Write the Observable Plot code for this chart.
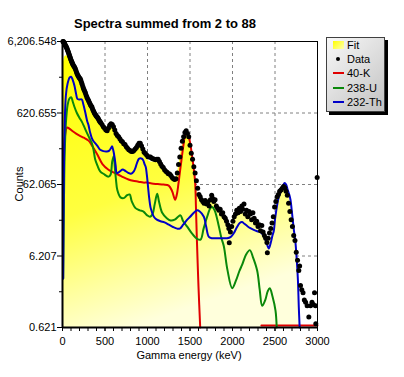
<!DOCTYPE html>
<html><head><meta charset="utf-8">
<script src="https://cdn.jsdelivr.net/npm/d3@7"></script>
<script src="https://cdn.jsdelivr.net/npm/@observablehq/plot@0.6"></script>
<style>
body{margin:0;background:#fff;font-family:"Liberation Sans",Arial,sans-serif;color:#000}
#wrap{position:relative;width:404px;height:377px;overflow:hidden}
#wrap svg{position:absolute;left:0;top:0}
.abs{position:absolute;white-space:nowrap}
#title{left:0;width:330px;top:17px;text-align:center;font-weight:bold;font-size:13px;line-height:13px}
#ylab{left:19px;top:184px;font-size:11px;transform:translate(-50%,-50%) rotate(-90deg)}
#xlab{left:189px;top:355px;font-size:11px;transform:translate(-50%,-50%)}
#legend{left:326px;top:37px;width:57px;height:73px;border:1px solid #404040;background:linear-gradient(135deg,#f8f8f8,#c2c2c2);box-shadow:3px 3px 0 #000}
.row{position:absolute;left:0;width:57px;height:14px}
.row .t{position:absolute;left:20px;top:0;font-size:11px;line-height:14px}
.sw{position:absolute}
</style></head>
<body>
<div id="wrap">
  <div id="plot"></div>
  <div class="abs" id="title">Spectra summed from 2 to 88</div>
  <div class="abs" id="ylab">Counts</div>
  <div class="abs" id="xlab">Gamma energy (keV)</div>
  <div class="abs" id="legend"></div>
</div>
<script>
// ---- tick values ----
const xTicks = [0, 500, 1000, 1500, 2000, 2500, 3000];
const xMinorTicks = d3.range(0, 3001, 100);
const yTicks = [0.621, 6.207, 62.065, 620.655, 6206.548];
const yMinorTicks = [1.963, 19.63, 196.3, 1963];
const yDomain = [0.621, 6206.548];

// ---- series: [energy keV, counts] ----
const dataPts = [
[5,6300],[10,6200],[15,6050],[20,5900],[25,5750],[30,5600],[35,5450],[40,5330],[45,5200],[50,5030],
[55,4870],[60,4700],[65,4530],[70,4370],[75,4200],[80,4030],[85,3870],[90,3700],[95,3570],[100,3430],
[105,3300],[110,3200],[115,3100],[120,3000],[127,2900],[135,2800],[142,2700],[150,2600],[157,2450],[165,2300],
[172,2200],[180,2100],[187,2020],[195,1950],[202,1900],[210,1850],[217,1750],[225,1650],[232,1550],[240,1450],
[247,1370],[255,1300],[262,1240],[270,1180],[277,1110],[285,1050],[292,1000],[300,960],[307,920],[315,880],
[322,840],[330,800],[337,780],[345,760],[352,720],[360,680],[367,650],[375,620],[382,600],[390,580],
[397,565],[405,550],[412,535],[420,520],[427,500],[435,480],[442,468],[450,455],
[465,430],[480,400],[495,380],[510,360],[525,350],[540,380],[555,420],[570,440],[585,430],
[600,400],[615,360],[630,320],[645,300],[660,290],[675,270],[690,255],[705,245],[720,230],[735,225],
[750,210],[765,200],[780,190],[795,185],[810,180],[825,180],[840,185],[855,195],[870,205],[885,220],
[900,235],[915,235],[930,215],[945,195],[960,175],[975,168],[990,160],[1005,152],[1020,150],[1035,150],
[1050,145],[1065,142],[1080,140],[1095,138],[1110,140],[1125,140],[1140,130],[1155,120],[1170,112],[1185,107],
[1200,100],[1215,95],[1230,92],[1245,88],[1260,87],[1275,83],[1290,78],[1305,75],[1320,73],[1335,75],
[1350,90],[1365,118],[1380,150],[1395,200],[1410,250],[1425,290],[1440,330],[1455,350],[1470,320],[1485,290],
[1500,220],[1515,170],[1530,140],[1545,110],[1560,90],[1575,70],[1590,55],[1605,45],
[1620,42],[1635,38],[1650,36],[1665,34],[1680,37],[1695,33],[1710,35],[1725,31],[1740,38],[1755,44],
[1765,40],[1780,36],[1795,38],[1810,31],[1825,29],[1840,27],[1855,28],[1870,24],[1885,25],[1900,22],
[1915,21],[1930,19],[1945,17],[1957,15],[1962,9.5],[1975,13.5],[1990,16],[2005,19],[2020,22],[2035,24],
[2050,27],[2065,25],[2080,29],[2095,26],[2110,31],[2120,28],[2135,33],[2150,24],[2165,27],[2180,22],
[2195,26],[2210,24],[2225,20],[2240,25],[2255,21],[2270,18],[2285,19],[2300,16],[2315,17],[2330,14],
[2345,16.6],[2360,13.5],[2375,12],[2390,11],[2405,9.6],[2410,6.9],[2420,11],[2435,13],[2450,15],[2465,18],
[2480,22],[2495,30],[2510,36],[2525,42],[2540,45],[2555,50],[2570,52],[2585,55],[2600,58],[2615,56],
[2630,50],[2645,44],[2660,34],[2675,26],[2690,20],[2705,16],[2720,12],[2735,10.2],[2750,7],[2765,5.4],
[2780,3.9],[2790,4.5],[2800,2.4],[2815,2.1],[2830,1.9],[2845,1.5],[2860,1.4],[2878,1.25],[2898,0.87],[2918,1.25],
[2935,1.4],[2950,1.3],[2965,1.9],[2976,1.25],[2980,0.7],[2996,78]
];

const fitCurve = [
[0,2500],[15,3300],[35,3900],[60,3900],[90,3500],[120,3000],[150,2450],[180,2000],[210,1700],[250,1300],
[300,950],[350,720],[400,540],[450,430],[500,360],[530,345],[560,390],[585,415],[610,365],[640,300],
[680,255],[720,225],[760,200],[800,178],[840,175],[880,200],[910,215],[940,195],[970,165],[1000,140],
[1040,128],[1080,128],[1115,135],[1140,122],[1180,104],[1220,94],[1260,86],[1300,76],[1330,74],[1360,100],
[1390,170],[1420,250],[1445,320],[1463,340],[1485,300],[1505,235],[1525,165],[1545,110],[1565,70],[1585,48],
[1610,40],[1640,37],[1680,36],[1720,38],[1760,42],[1790,39],[1830,30],[1870,24],[1910,20],[1950,17],
[1990,17],[2030,20],[2070,23],[2110,25],[2150,23],[2200,22],[2250,20],[2300,17],[2340,15],[2380,12.5],
[2420,10],[2445,11],[2470,15],[2500,23],[2530,36],[2560,50],[2590,60],[2614,65],[2640,55],[2665,42],
[2690,28],[2715,16],[2740,9.6],[2760,5.5],[2775,3],[2785,1.6],[2793,0.621]
];

const k40 = [
[15,40],[30,300],[55,390],[80,375],[120,345],[160,320],[200,300],[250,280],[306,255],[350,215],
[408,165],[470,120],[541,100],[600,92],[659,85],[720,78],[776,73],[830,70],[894,68],[950,66],
[996,66],[1050,64],[1120,63],[1188,62],[1250,60],[1290,50],[1325,38],[1345,45],[1365,65],[1385,100],
[1404,150],[1425,230],[1443,310],[1463,330],[1482,300],[1502,235],[1520,170],[1541,110],[1561,65],[1570,30],
[1580,11.5],[1590,5],[1600,2.3],[1620,0.621],[1640,null],[2340,0.66],[3000,0.66]
];

const u238 = [
[8,3],[15,20],[25,150],[40,450],[60,800],[80,980],[102,1030],[120,900],[140,760],[169,620],
[200,530],[227,470],[255,400],[286,330],[315,280],[345,235],[365,190],[384,140],[410,115],[443,95],
[486,87],[541,80],[565,85],[585,130],[604,155],[615,110],[628,75],[645,52],[682,41],[720,40],
[760,44],[790,45],[815,36],[859,29],[910,27],[953,26],[996,23],[1030,22],[1060,24],[1085,33],
[1114,46],[1135,36],[1173,25],[1227,21],[1271,19.5],[1320,20],[1360,22],[1388,23],[1420,19],[1467,16],
[1520,13],[1584,10.8],[1624,10.5],[1660,15],[1702,22],[1740,29],[1761,30],[1790,27],[1835,17],[1870,11],
[1898,8.5],[1940,4],[1996,2.2],[2040,2.8],[2080,3.8],[2114,4.7],[2160,6.5],[2204,7.5],[2240,6],[2290,3.9],
[2320,2.1],[2349,1.25],[2385,1.5],[2415,2],[2439,2.2],[2470,1.7],[2506,1.07],[2520,0.621]
];

const th232 = [
[8,3],[15,60],[25,400],[40,1100],[60,1600],[85,1950],[102,2000],[120,1800],[140,1500],[160,1150],
[175,980],[200,960],[227,960],[245,820],[267,640],[290,480],[306,420],[325,330],[345,276],[365,250],
[384,235],[410,215],[443,190],[480,182],[521,180],[550,185],[570,200],[583,212],[598,185],[612,150],
[625,115],[639,90],[660,92],[678,95],[700,100],[718,100],[745,95],[776,90],[805,88],[839,95],
[860,108],[880,128],[900,142],[918,145],[933,143],[950,135],[965,120],[980,108],[992,85],[1005,60],
[1020,40],[1035,30],[1050,26],[1075,22],[1110,20],[1153,19],[1200,18.3],[1250,17],[1300,15.8],[1349,15],
[1380,15],[1420,17],[1460,19.5],[1502,22],[1545,25],[1584,27],[1615,26],[1663,22],[1690,16],[1722,11.5],
[1760,11],[1820,11],[1880,11],[1937,11],[1980,11.5],[2016,13],[2050,15.5],[2085,18],[2114,18.5],[2140,17.5],
[2173,16.3],[2210,15.2],[2250,14.4],[2290,13.8],[2329,13.4],[2365,12],[2395,10],[2427,7.9],[2450,9.5],[2470,12],
[2486,14],[2502,21],[2525,32],[2545,42],[2565,48],[2590,58],[2614,65],[2630,62],[2650,52],[2670,44],
[2682,38],[2700,25],[2720,15],[2741,9.5],[2758,5],[2770,2.8],[2780,1.2],[2790,0.621]
];

const ex = d => d[0], ey = d => d[1];
const yFmt = d3.format(",.3f");

const chart = Plot.plot({
  width: 404, height: 377,
  marginTop: 41, marginRight: 87, marginBottom: 50, marginLeft: 62,
  style: {fontFamily: '"Liberation Sans", Arial, sans-serif', fontSize: "11px", background: "transparent", color: "black", overflow: "visible"},
  x: {domain: [0, 3000]},
  y: {type: "log", domain: yDomain, clamp: true},
  marks: [
    Plot.ruleX(xTicks.slice(1, -1), {stroke: "#808080", strokeDasharray: "3,3", strokeWidth: 1}),
    Plot.ruleY(yTicks.slice(1), {stroke: "#808080", strokeDasharray: "3,3", strokeWidth: 1}),
    Plot.areaY(fitCurve, {x: ex, y1: yDomain[0], y2: ey, fill: "url(#fitGrad)", curve: "monotone-x"}),
    Plot.line(k40, {x: ex, y: ey, stroke: "#e00000", strokeWidth: 2, curve: "catmull-rom"}),
    Plot.line(u238, {x: ex, y: ey, stroke: "#0a880a", strokeWidth: 2, curve: "catmull-rom"}),
    Plot.line(th232, {x: ex, y: ey, stroke: "#0000c8", strokeWidth: 2, curve: "catmull-rom"}),
    Plot.dot(dataPts, {x: ex, y: ey, r: 2.5, fill: "black", stroke: "none"}),
    Plot.frame({stroke: "black", strokeWidth: 1}),
    Plot.ruleX([0], {stroke: "black", strokeWidth: 2}),
    Plot.ruleY([yDomain[0]], {stroke: "black", strokeWidth: 2}),
    Plot.axisX(xTicks, {tickSize: 4, tickPadding: 6, label: null, fontSize: 11, tickFormat: d => String(d)}),
    Plot.axisX(xMinorTicks, {tickSize: 4, tickFormat: () => "", label: null}),
    Plot.axisY(yTicks, {tickSize: 5, tickFormat: () => "", label: null}),
    Plot.axisY(yMinorTicks, {tickSize: 3, tickFormat: () => "", label: null}),
    Plot.text(yTicks, {y: d => d, text: d => yFmt(d), frameAnchor: "left", dx: -6, textAnchor: "end", fontSize: 11, fill: "black"})
  ]
});

// gradient definition for the Fit area
const NS = "http://www.w3.org/2000/svg";
const defs = document.createElementNS(NS, "defs");
const grad = document.createElementNS(NS, "linearGradient");
grad.setAttribute("id", "fitGrad");
grad.setAttribute("x1", "0"); grad.setAttribute("y1", "0");
grad.setAttribute("x2", "0.3"); grad.setAttribute("y2", "1");
[[0, "#ffff00"], [0.55, "#ffff40"], [0.82, "#ffffa0"], [1, "#ffffdc"]].forEach(([o, c]) => {
  const s = document.createElementNS(NS, "stop");
  s.setAttribute("offset", o); s.setAttribute("stop-color", c);
  grad.appendChild(s);
});
defs.appendChild(grad);
chart.insertBefore(defs, chart.firstChild);
document.getElementById("plot").appendChild(chart);

// legend
const legendItems = [
  {label: "Fit", kind: "fill"},
  {label: "Data", kind: "dot"},
  {label: "40-K", kind: "line", color: "#e00000"},
  {label: "238-U", kind: "line", color: "#0a880a"},
  {label: "232-Th", kind: "line", color: "#0000c8"}
];
const lg = document.getElementById("legend");
legendItems.forEach((it, i) => {
  const row = document.createElement("div");
  row.className = "row";
  row.style.top = (0 + i * 14.2) + "px";
  const sw = document.createElement("div");
  sw.className = "sw";
  if (it.kind === "fill") {
    Object.assign(sw.style, {left: "6px", top: "3px", width: "11px", height: "8px", background: "linear-gradient(135deg,#ffff00,#ffffb0)"});
  } else if (it.kind === "dot") {
    Object.assign(sw.style, {left: "9px", top: "5px", width: "4px", height: "4px", borderRadius: "50%", background: "#000"});
  } else {
    Object.assign(sw.style, {left: "6px", top: "6px", width: "11px", height: "2px", background: it.color});
  }
  const t = document.createElement("div");
  t.className = "t";
  t.textContent = it.label;
  row.appendChild(sw); row.appendChild(t);
  lg.appendChild(row);
});
</script>
</body></html>
